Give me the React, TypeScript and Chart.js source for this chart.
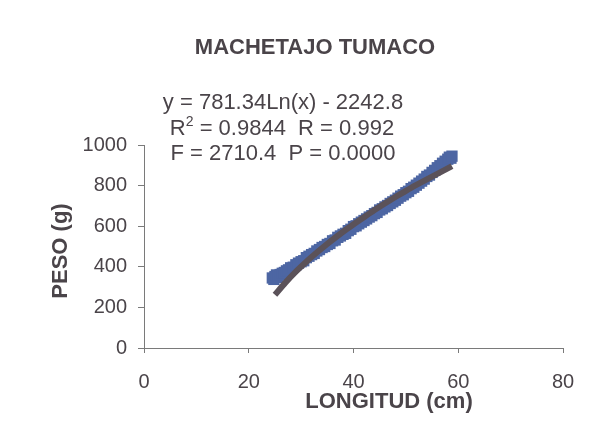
import React, { useEffect, useRef } from "react";
import { Chart, registerables } from "chart.js";

Chart.register(...registerables);

const titleText = "MACHETAJO TUMACO";
const equationLine1 = "y = 781.34Ln(x) - 2242.8";
const equationLine2a = "R";
const equationLine2sup = "2";
const equationLine2b = " = 0.9844  R = 0.992";
const equationLine3 = "F = 2710.4  P = 0.0000";
const xTitle = "LONGITUD (cm)";
const yTitle = "PESO (g)";

const xTicks = [0, 20, 40, 60, 80];
const yTicks = [0, 200, 400, 600, 800, 1000];

const obsX = [
  24.5, 24.8, 25.0, 25.3, 25.6, 26.0, 26.4, 26.8, 27.2, 27.6, 28.0, 28.5, 29.0, 29.5, 30.0,
  30.5, 31.0, 31.5, 32.0, 32.5, 33.0, 33.5, 34.0, 34.5, 35.0, 35.5, 36.0, 36.5, 37.0, 37.5,
  38.0, 38.5, 39.0, 39.5, 40.0, 40.5, 41.0, 41.5, 42.0, 42.5, 43.0, 43.5, 44.0, 44.5, 45.0,
  45.5, 46.0, 46.5, 47.0, 47.5, 48.0, 48.5, 49.0, 49.5, 50.0, 50.5, 51.0, 51.5, 52.0, 52.5,
  53.0, 53.5, 54.0, 54.5, 55.0, 55.5, 56.0, 56.5, 57.0, 57.5, 58.0, 58.3, 58.6, 58.8,
];
const obsY = [
  345, 338, 352, 360, 348, 362, 368, 372, 380, 385, 395, 398, 410, 418, 425,
  430, 445, 452, 460, 466, 478, 485, 495, 500, 510, 515, 528, 532, 545, 552,
  560, 565, 578, 585, 598, 602, 612, 620, 628, 636, 645, 652, 662, 668, 680,
  686, 695, 702, 712, 720, 728, 738, 748, 755, 765, 772, 785, 792, 802, 812,
  822, 832, 845, 852, 865, 875, 888, 898, 910, 920, 930, 940, 935, 945,
];

const trendX = [25, 27, 29, 31, 33, 35, 37, 39, 41, 43, 45, 47, 49, 51, 53, 55, 57, 58.8];
const trendY = [262, 322, 376, 425, 470, 513, 553, 591, 627, 662, 696, 728, 759, 789, 817, 844, 871, 896];

const FONT = "'Liberation Sans', Arial, sans-serif";
const TEXT_COLOR = "#4a4449";
const AXIS_COLOR = "#7a7a7a";

const textPlugin = {
  id: "textPlugin",
  afterDraw(chart: any) {
    const ctx = chart.ctx as CanvasRenderingContext2D;
    ctx.save();
    ctx.fillStyle = TEXT_COLOR;
    ctx.textBaseline = "middle";

    ctx.font = `bold 22px ${FONT}`;
    ctx.textAlign = "center";
    ctx.fillText(titleText, 315, 48);

    ctx.font = `22px ${FONT}`;
    ctx.fillText(equationLine1, 283, 103);

    const wR = ctx.measureText(equationLine2a).width;
    ctx.font = `14px ${FONT}`;
    const wSup = ctx.measureText(equationLine2sup).width;
    ctx.font = `22px ${FONT}`;
    const wRest = ctx.measureText(equationLine2b).width;
    const total = wR + wSup + wRest;
    let sx = 282 - total / 2;
    ctx.textAlign = "left";
    ctx.fillText(equationLine2a, sx, 129);
    sx += wR;
    ctx.font = `14px ${FONT}`;
    ctx.fillText(equationLine2sup, sx, 122);
    sx += wSup;
    ctx.font = `22px ${FONT}`;
    ctx.fillText(equationLine2b, sx, 129);

    ctx.textAlign = "center";
    ctx.fillText(equationLine3, 283, 154);

    ctx.font = `bold 22px ${FONT}`;
    ctx.fillText(xTitle, 389, 402);
    ctx.translate(61, 251);
    ctx.rotate(-Math.PI / 2);
    ctx.fillText(yTitle, 0, 0);
    ctx.restore();
  },
};

export default function App() {
  const ref = useRef<HTMLCanvasElement | null>(null);

  useEffect(() => {
    if (!ref.current) return;
    const chart = new Chart(ref.current, {
      type: "scatter",
      data: {
        datasets: [
          {
            type: "line",
            label: "trend",
            data: trendX.map((x, i) => ({ x, y: trendY[i] })),
            borderColor: "#5b5259",
            borderWidth: 6,
            pointRadius: 0,
            tension: 0.3,
            fill: false,
          } as any,
          {
            label: "obs",
            data: obsX.map((x, i) => ({ x, y: obsY[i] })),
            backgroundColor: "#4d66a3",
            borderColor: "#4d66a3",
            borderWidth: 0,
            pointStyle: "rect",
            pointRadius: 8,
          },
        ],
      },
      options: {
        responsive: false,
        animation: false,
        layout: { padding: { top: 145, right: 47, bottom: 0, left: 0 } },
        plugins: { legend: { display: false }, tooltip: { enabled: false }, title: { display: false } },
        scales: {
          x: {
            type: "linear",
            min: 0,
            max: 80,
            afterBuildTicks: (scale: any) => {
              scale.ticks = xTicks.map((v) => ({ value: v }));
            },
            afterFit: (scale: any) => {
              scale.height = 79;
            },
            grid: { display: true, drawOnChartArea: false, drawTicks: true, tickLength: 5, color: AXIS_COLOR },
            border: { display: true, color: AXIS_COLOR, width: 1 },
            ticks: {
              font: { family: FONT, size: 20 },
              color: TEXT_COLOR,
              padding: 17,
              maxRotation: 0,
              callback: (v: any) => String(v),
            },
          },
          y: {
            type: "linear",
            min: 0,
            max: 1000,
            afterBuildTicks: (scale: any) => {
              scale.ticks = yTicks.map((v) => ({ value: v }));
            },
            afterFit: (scale: any) => {
              scale.width = 144;
            },
            grid: { display: true, drawOnChartArea: false, drawTicks: true, tickLength: 6, color: AXIS_COLOR },
            border: { display: true, color: AXIS_COLOR, width: 1 },
            ticks: {
              font: { family: FONT, size: 20 },
              color: TEXT_COLOR,
              padding: 11,
              callback: (v: any) => String(v),
            },
          },
        },
      },
      plugins: [textPlugin],
    });
    return () => chart.destroy();
  }, []);

  return (
    <div style={{ position: "fixed", left: 0, top: 0, width: 610, height: 427, background: "#fff" }}>
      <canvas ref={ref} width={610} height={427} style={{ display: "block" }} />
    </div>
  );
}
